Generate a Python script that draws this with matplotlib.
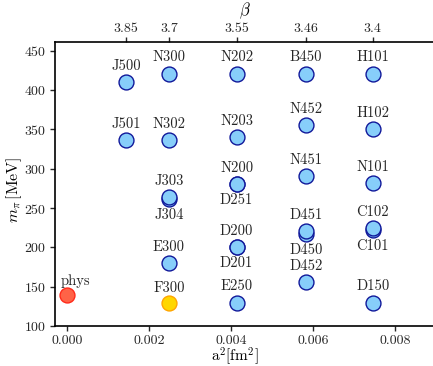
import matplotlib
matplotlib.use("Agg")
import matplotlib.pyplot as plt

plt.rcParams['font.family'] = 'serif'
plt.rcParams['font.serif'] = ['cmr10']
plt.rcParams['mathtext.fontset'] = 'cm'
plt.rcParams['axes.formatter.use_mathtext'] = True
plt.rcParams['axes.unicode_minus'] = False
plt.rcParams['text.color'] = '#262626'
plt.rcParams['xtick.color'] = '#262626'
plt.rcParams['ytick.color'] = '#262626'

# ensembles: name, a^2 [fm^2], m_pi [MeV], label above (1) / below (-1)
names = ['J500', 'J501', 'N300', 'N302', 'J303', 'J304', 'E300',
         'N202', 'N203', 'N200', 'D251', 'D200', 'D201', 'E250',
         'B450', 'N452', 'N451', 'D451', 'D450', 'D452',
         'H101', 'H102', 'N101', 'C102', 'C101', 'D150']
a2 = [0.00144, 0.00144, 0.00249, 0.00249, 0.00249, 0.00249, 0.00249,
      0.00414, 0.00414, 0.00414, 0.00414, 0.00414, 0.00414, 0.00414,
      0.00583, 0.00583, 0.00583, 0.00583, 0.00583, 0.00583,
      0.00746, 0.00746, 0.00746, 0.00746, 0.00746, 0.00746]
mpi = [410, 336, 421, 336, 264, 261, 180,
       421, 340, 280, 280, 200, 200, 130,
       421, 356, 291, 221, 217, 156,
       421, 350, 282, 225, 222, 130]
side = [1, 1, 1, 1, 1, -1, 1,
        1, 1, 1, -1, 1, -1, 1,
        1, 1, 1, 1, -1, 1,
        1, 1, 1, 1, -1, 1]

f300_a2, f300_mpi = 0.00249, 130
phys_a2, phys_mpi = 0.0, 139

beta_pos = [0.00144, 0.00249, 0.00414, 0.00583, 0.00746]
beta_labels = ['3.85', '3.7', '3.55', '3.46', '3.4']

fig = plt.figure(figsize=(4.33, 3.66), dpi=100)
ax = fig.add_axes([0.127, 0.109, 0.873, 0.776])

# draw back-to-front so the first of a pair sits on top
ax.scatter(a2[::-1], mpi[::-1], s=115, c='#87cefa', edgecolors='#10189a', linewidths=1.0, zorder=3)
ax.scatter([f300_a2], [f300_mpi], s=115, c='#ffd700', edgecolors='#ffa500', linewidths=1.0, zorder=3)
ax.scatter([phys_a2], [phys_mpi], s=115, c='#ff6347', edgecolors='#ff2a1a', linewidths=1.0, zorder=3)

for n, x, y, sd in zip(names, a2, mpi, side):
    ax.annotate(n, (x, y), xytext=(0, 11.5 * sd), textcoords='offset points',
                ha='center', va='center', fontsize=10.5)
ax.annotate('F300', (f300_a2, f300_mpi), xytext=(0, 10.5), textcoords='offset points',
            ha='center', va='center', fontsize=10.5)
ax.annotate('phys', (phys_a2, phys_mpi), xytext=(6.5, 10.5), textcoords='offset points',
            ha='center', va='center', fontsize=10.5)

ax.set_xlim(-0.00029, 0.00893)
ax.set_ylim(100, 461)
ax.set_xticks([0.0, 0.002, 0.004, 0.006, 0.008])
ax.set_xticklabels(['0.000', '0.002', '0.004', '0.006', '0.008'])
ax.set_yticks([100, 150, 200, 250, 300, 350, 400, 450])
ax.tick_params(labelsize=10, width=1.0, length=3.5, pad=3)
ax.spines['right'].set_visible(False)
ax.spines['top'].set_visible(False)
for s in ['left', 'bottom']:
    ax.spines[s].set_linewidth(1.2)
ax.set_xlabel(r'a$^2$[fm$^2$]', fontsize=11)
ax.xaxis.set_label_coords(0.475, -0.066)
ax.set_ylabel(r'$m_\pi\,[\mathrm{MeV}]$', fontsize=11.5)
ax.yaxis.set_label_coords(-0.082, 0.48)

ax2 = ax.twiny()
ax2.set_xlim(ax.get_xlim())
ax2.set_xticks(beta_pos)
ax2.set_xticklabels(beta_labels)
ax2.tick_params(labelsize=10, width=1.0, length=3.5, pad=1.5)
ax2.spines['right'].set_visible(False)
ax2.spines['left'].set_visible(False)
ax2.spines['bottom'].set_visible(False)
ax2.spines['top'].set_linewidth(1.2)
ax2.set_xlabel(r'$\beta$', fontsize=12)
ax2.xaxis.set_label_coords(0.503, 1.095)

fig.savefig('out.png', dpi=100)
